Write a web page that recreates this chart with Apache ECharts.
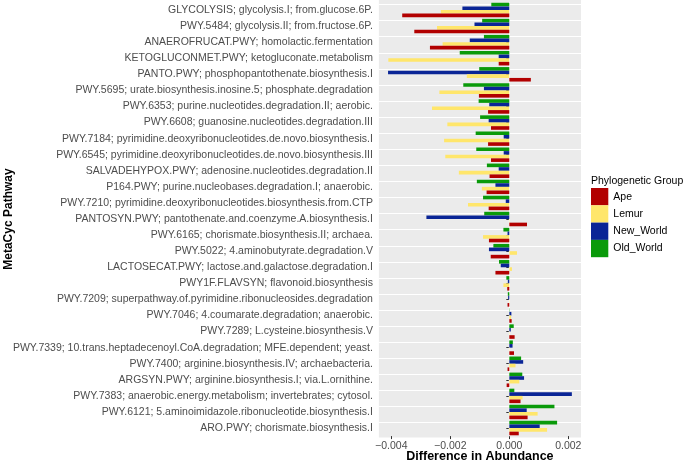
<!DOCTYPE html>
<html>
<head>
<meta charset="utf-8">
<script src="https://cdn.jsdelivr.net/npm/echarts@6/dist/echarts.min.js"></script>
<style>html,body{margin:0;padding:0;background:#fff;}#c{width:685px;height:461px;}</style>
</head>
<body>
<div id="c"></div>
<script>
// Categories listed top-to-bottom as in the picture
var pathways = [
  "GLYCOLYSIS; glycolysis.I; from.glucose.6P.",
  "PWY.5484; glycolysis.II; from.fructose.6P.",
  "ANAEROFRUCAT.PWY; homolactic.fermentation",
  "KETOGLUCONMET.PWY; ketogluconate.metabolism",
  "PANTO.PWY; phosphopantothenate.biosynthesis.I",
  "PWY.5695; urate.biosynthesis.inosine.5; phosphate.degradation",
  "PWY.6353; purine.nucleotides.degradation.II; aerobic.",
  "PWY.6608; guanosine.nucleotides.degradation.III",
  "PWY.7184; pyrimidine.deoxyribonucleotides.de.novo.biosynthesis.I",
  "PWY.6545; pyrimidine.deoxyribonucleotides.de.novo.biosynthesis.III",
  "SALVADEHYPOX.PWY; adenosine.nucleotides.degradation.II",
  "P164.PWY; purine.nucleobases.degradation.I; anaerobic.",
  "PWY.7210; pyrimidine.deoxyribonucleotides.biosynthesis.from.CTP",
  "PANTOSYN.PWY; pantothenate.and.coenzyme.A.biosynthesis.I",
  "PWY.6165; chorismate.biosynthesis.II; archaea.",
  "PWY.5022; 4.aminobutyrate.degradation.V",
  "LACTOSECAT.PWY; lactose.and.galactose.degradation.I",
  "PWY1F.FLAVSYN; flavonoid.biosynthesis",
  "PWY.7209; superpathway.of.pyrimidine.ribonucleosides.degradation",
  "PWY.7046; 4.coumarate.degradation; anaerobic.",
  "PWY.7289; L.cysteine.biosynthesis.V",
  "PWY.7339; 10.trans.heptadecenoyl.CoA.degradation; MFE.dependent; yeast.",
  "PWY.7400; arginine.biosynthesis.IV; archaebacteria.",
  "ARGSYN.PWY; arginine.biosynthesis.I; via.L.ornithine.",
  "PWY.7383; anaerobic.energy.metabolism; invertebrates; cytosol.",
  "PWY.6121; 5.aminoimidazole.ribonucleotide.biosynthesis.I",
  "ARO.PWY; chorismate.biosynthesis.I"
];
var ape = [-0.00363,-0.00322,-0.00269,-0.00036,0.00073,-0.00103,-0.00072,-0.00062,-0.00072,-0.00062,-0.00067,-0.00077,-0.00070,0.00060,-0.00069,-0.00063,-0.00047,-0.00007,-0.00006,0.00008,0.00018,0.00016,-0.00006,-0.00009,0.00038,0.00062,0.00032];
var lemur = [-0.00232,-0.00245,-0.00226,-0.00410,-0.00144,-0.00237,-0.00262,-0.00210,-0.00221,-0.00217,-0.00171,-0.00093,-0.00140,-0.00001,-0.00089,0.00026,0.00009,-0.00020,-0.00001,0.00006,0.00001,0.00001,0.00021,0.00034,0.00045,0.00096,0.00128];
var newWorld = [-0.00159,-0.00118,-0.00134,-0.00036,-0.00411,-0.00086,-0.00068,-0.00070,-0.00019,-0.00019,-0.00036,-0.00047,-0.00012,-0.00281,-0.00006,-0.00069,-0.00029,-0.00005,-0.00004,0.00007,0.00005,0.00011,0.00047,0.00050,0.00212,0.00059,0.00103];
var oldWorld = [-0.00061,-0.00092,-0.00086,-0.00168,-0.00102,-0.00156,-0.00104,-0.00099,-0.00114,-0.00112,-0.00076,-0.00110,-0.00089,-0.00085,-0.00020,-0.00054,-0.00035,-0.00010,-0.00005,-0.00001,0.00015,0.00012,0.00040,0.00044,0.00017,0.00153,0.00162];
var groups = ["Ape","Lemur","New_World","Old_World"];
var xTicks = [-0.004,-0.002,0,0.002];
var xMinor = [-0.003,-0.001,0.001];

var colors = {Ape:'#B20000', Lemur:'#FFE66B', New_World:'#0A2596', Old_World:'#0A9A0A'};
var FONT = "'Liberation Sans', Arial, Helvetica, sans-serif";

// bottom-to-top order for the (non-inverted) category axis
var cats = pathways.slice().reverse();
function rev(a){ return a.slice().reverse(); }

var gl = 378.9, gr = 581.0, gtop = 1.96, gbot = 436.1;

var gridLines = [];
xTicks.forEach(function(v){ gridLines.push({xAxis:v, lineStyle:{color:'#fff', width:1.1, type:'solid'}}); });
xMinor.forEach(function(v){ gridLines.push({xAxis:v, lineStyle:{color:'#fff', width:0.55, type:'solid'}}); });
cats.forEach(function(c){ gridLines.push({yAxis:c, lineStyle:{color:'#fff', width:1.1, type:'solid'}}); });

var seriesOrder = [["Old_World", oldWorld],["New_World", newWorld],["Lemur", lemur],["Ape", ape]];
var series = seriesOrder.map(function(s, i){
  var o = {
    name: s[0], type:'bar', data: rev(s[1]),
    itemStyle:{color: colors[s[0]]},
    barGap:'0%', barCategoryGap:'10%', z:3,
    emphasis:{disabled:true}
  };
  if (i === 0) {
    o.markLine = {silent:true, symbol:'none', z:1, animation:false, label:{show:false}, data: gridLines};
  }
  return o;
});

var chart = echarts.init(document.getElementById('c'), null, {renderer:'canvas'});
chart.setOption({
  animation:false,
  backgroundColor:'#fff',
  textStyle:{fontFamily:FONT},
  graphic:[{type:'rect', z:0, silent:true, shape:{x:gl, y:0, width:gr-gl, height:437.6}, style:{fill:'#EBEBEB'}}],
  title:{text:'Phylogenetic Group', left:591, top:176, padding:0,
    textStyle:{fontSize:10.5, fontWeight:'normal', color:'#000', fontFamily:FONT}},
  legend:{
    data: groups, orient:'vertical', left:591, top:188, padding:0,
    itemWidth:17.3, itemHeight:17.3, itemGap:0, icon:'rect',
    textStyle:{fontSize:10.5, color:'#000', fontFamily:FONT}
  },
  grid:{left:gl, right:685-gr, top:gtop, bottom:461-gbot, containLabel:false, outerBoundsMode:'none'},
  xAxis:{
    type:'value', min:-0.00442, max:0.00243,
    name:'Difference in Abundance', nameLocation:'middle', nameGap:14, nameMoveOverlap:false,
    nameTextStyle:{fontSize:12.5, fontWeight:'bold', color:'#000', fontFamily:FONT},
    axisLine:{show:false},
    axisTick:{show:true, customValues:xTicks, length:3, lineStyle:{color:'#333'}},
    axisLabel:{customValues:xTicks, fontSize:10.5, color:'#4D4D4D', margin:5,
      formatter:function(v){ return (v < 0 ? '\u2212' : '') + Math.abs(v).toFixed(3); }},
    splitLine:{show:false}
  },
  yAxis:{
    type:'category', data: cats,
    name:'MetaCyc Pathway', nameLocation:'middle', nameGap:364, nameRotate:90, nameMoveOverlap:false,
    nameTextStyle:{fontSize:12, fontWeight:'bold', color:'#000', fontFamily:FONT},
    axisLine:{show:false},
    axisTick:{show:true, alignWithLabel:true, length:3, lineStyle:{color:'#333'}},
    axisLabel:{fontSize:10.5, color:'#4D4D4D', margin:6, interval:0},
    splitLine:{show:false}
  },
  series: series
});
</script>
</body>
</html>
